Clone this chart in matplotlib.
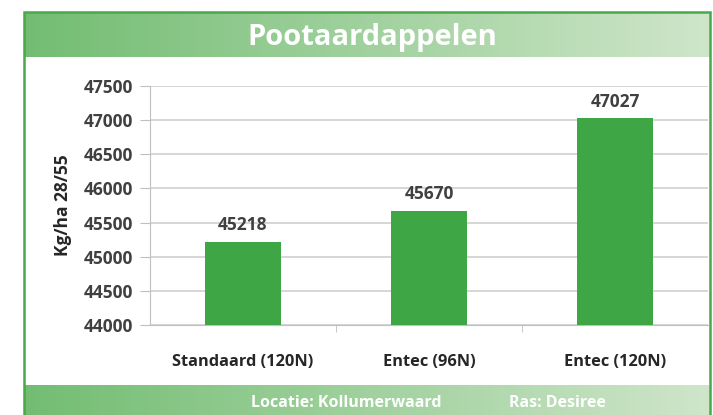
import numpy as np
import matplotlib.pyplot as plt
from matplotlib.patches import Rectangle

# data
categories = ["Standaard (120N)", "Entec (96N)", "Entec (120N)"]
values = [45218, 45670, 47027]
y_ticks = [44000, 44500, 45000, 45500, 46000, 46500, 47000, 47500]

W, H = 713, 415
fig = plt.figure(figsize=(W / 100, H / 100), dpi=100)
plt.rcParams['font.family'] = ['Open Sans', 'DejaVu Sans']

def fx(px):
    return px / W

def fy(py):
    return 1 - py / H

# gradient bands (header and footer)
grad = np.linspace(0, 1, 256).reshape(1, -1)
c0 = np.array([0.45, 0.74, 0.45])
c1 = np.array([0.81, 0.90, 0.79])
img = c0 + (c1 - c0) * grad[..., None]
for top, bot in [(12, 57), (385, 415)]:
    bax = fig.add_axes([fx(24), fy(bot), fx(710 - 24), (bot - top) / H])
    bax.imshow(img, aspect='auto', extent=[0, 1, 0, 1])
    bax.set_axis_off()

# frame border
fig.patches.append(Rectangle((fx(24), fy(416)), fx(710 - 24), (416 - 12) / H,
                             transform=fig.transFigure, fill=False,
                             edgecolor='#4aa84a', linewidth=1.8, zorder=5))

fig.text(fx(372), fy(37), "Pootaardappelen", color='white', fontsize=21,
         fontweight='bold', ha='center', va='center')
fig.text(fx(346), fy(403), "Locatie: Kollumerwaard", color='white', fontsize=11.5,
         fontweight='bold', ha='center', va='center')
fig.text(fx(557), fy(403), "Ras: Desiree", color='white', fontsize=11.5,
         fontweight='bold', ha='center', va='center')

# main axes
ax = fig.add_axes([fx(150), fy(325), fx(708 - 150), (325 - 86) / H])
x = np.arange(len(categories))
ax.bar(x, values, width=0.41, color='#3fa646', zorder=3)
for xi, v in zip(x, values):
    ax.text(xi, v + 110, str(v), ha='center', va='bottom', fontsize=12.5,
            fontweight='bold', color='#404040')

ax.set_ylim(44000, 47500)
ax.set_xlim(-0.5, 2.5)
ax.set_yticks(y_ticks)
ax.set_yticklabels([str(t) for t in y_ticks], fontsize=12.5, fontweight='bold', color='#404040')
ax.set_xticks(x)
ax.set_xticklabels(categories, fontsize=11.8, fontweight='bold', color='#262626')
ax.set_xticks([0.5, 1.5], minor=True)
ax.tick_params(axis='x', which='major', length=0, pad=21)
ax.tick_params(axis='x', which='minor', length=5, color='#bfbfbf')
ax.tick_params(axis='y', length=7, color='#bfbfbf', pad=5)
ax.grid(axis='y', color='#d0d0d0', linewidth=1.2, zorder=0)
for s in ['top', 'right']:
    ax.spines[s].set_visible(False)
ax.spines['left'].set_color('#bfbfbf')
ax.spines['bottom'].set_color('#bfbfbf')
ax.set_ylabel("Kg/ha 28/55", fontsize=12.5, fontweight='bold', color='#262626')
ax.yaxis.set_label_coords(-(150 - 72) / (708 - 150), 0.5)

fig.savefig("out.png", dpi=100)
